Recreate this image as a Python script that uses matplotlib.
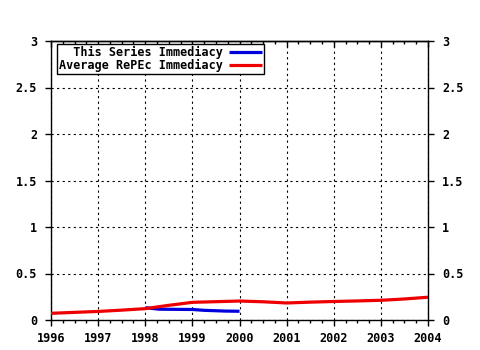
import matplotlib
matplotlib.use("Agg")
import matplotlib.pyplot as plt
from matplotlib.ticker import MultipleLocator

# Data
avg_years = [1996.0, 1996.5, 1997.0, 1997.5, 1998.0, 1998.5, 1999.0, 1999.5,
             2000.0, 2000.5, 2001.0, 2001.5, 2002.0, 2002.5, 2003.0, 2003.5, 2004.0]
avg_values = [0.072, 0.082, 0.092, 0.106, 0.122, 0.158, 0.19, 0.197,
              0.204, 0.196, 0.183, 0.192, 0.199, 0.205, 0.212, 0.226, 0.245]
series_years = [1998.0, 1998.3, 1999.0, 1999.25, 1999.7, 2000.0]
series_values = [0.132, 0.116, 0.113, 0.104, 0.096, 0.094]

series_label = "  This Series Immediacy"
avg_label = "Average RePEc Immediacy"
x_ticks = [1996, 1997, 1998, 1999, 2000, 2001, 2002, 2003, 2004]
y_ticks = [0, 0.5, 1, 1.5, 2, 2.5, 3]
y_ticklabels = ["0", "0.5", "1", "1.5", "2", "2.5", "3"]

font = {"family": "DejaVu Sans Mono", "weight": "bold", "size": 8.5}
plt.rcParams["font.family"] = "DejaVu Sans Mono"
plt.rcParams["font.weight"] = "bold"

fig = plt.figure(figsize=(4.8, 3.5), dpi=100)
ax = fig.add_axes([51/480, 30/350, (428-51)/480, (320-41)/350])

lw = 2.3
ax.plot(series_years, series_values, color="#0000dd", lw=lw,
        solid_capstyle="butt", label=series_label, zorder=3)
ax.plot(avg_years, avg_values, color="#ee0000", lw=lw,
        solid_capstyle="butt", label=avg_label, zorder=4)

ax.set_xlim(1996, 2004)
ax.set_ylim(0, 3)
ax.set_xticks(x_ticks)
ax.set_xticklabels([str(y) for y in x_ticks], fontdict=font)
ax.set_yticks(y_ticks)
ax.set_yticklabels(y_ticklabels, fontdict=font)
ax.xaxis.set_minor_locator(MultipleLocator(0.25))

ax.tick_params(axis="x", which="major", direction="out", length=4, width=1,
               top=False, bottom=True, pad=5, labelsize=8.5)
ax.tick_params(axis="x", which="minor", direction="out", length=2.5, width=1,
               top=False, bottom=True)
ax.tick_params(axis="y", which="major", direction="out", length=4, width=1,
               left=True, right=True, labelleft=True, labelright=True,
               pad=6, labelsize=8.5)
for lab in ax.get_yticklabels() + ax.get_xticklabels():
    lab.set_fontweight("bold")
    lab.set_family("DejaVu Sans Mono")

# top axis: inward ticks, no labels
top = ax.secondary_xaxis("top")
top.set_xticks(x_ticks)
top.xaxis.set_minor_locator(MultipleLocator(0.25))
top.tick_params(which="major", direction="in", length=4, width=1, labeltop=False)
top.tick_params(which="minor", direction="in", length=2.5, width=1)
top.spines["top"].set_linewidth(1)

ax.grid(True, which="major", color="black", linestyle=(0, (2, 3)), linewidth=0.8)
for s in ax.spines.values():
    s.set_color("black")
    s.set_linewidth(1)

leg = ax.legend(loc="upper left", bbox_to_anchor=(0.017, 0.99),
                markerfirst=False, frameon=True, fancybox=False,
                prop={"family": "DejaVu Sans Mono", "weight": "bold", "size": 8.5},
                handlelength=2.8, handletextpad=0.5, borderpad=0.15,
                labelspacing=0.05, borderaxespad=0.0)
leg.get_frame().set_edgecolor("black")
leg.get_frame().set_linewidth(1)
leg.get_frame().set_alpha(1)

fig.savefig("out.png", dpi=100, facecolor="white")
